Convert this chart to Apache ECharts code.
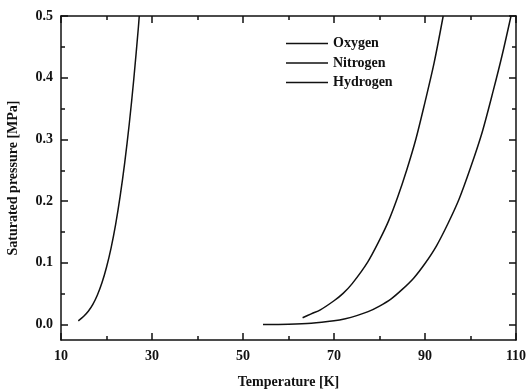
<!DOCTYPE html>
<html>
<head>
<meta charset="utf-8">
<script src="https://cdn.jsdelivr.net/npm/echarts@6/dist/echarts.min.js"></script>
<style>
  html, body { margin: 0; padding: 0; background: #fff; }
  #chart { width: 531px; height: 389px; }
</style>
</head>
<body>
<div id="chart"></div>
<script>
// temperatures [K] and saturated pressures [MPa]
const oxygenT = [54.4, 60, 65, 70, 72.5, 75, 77.5, 80, 82.5, 85, 87.5, 90, 92.5, 95, 97.5, 100, 102.5, 105, 107, 108.9]
const oxygenP = [0.00015, 0.0007, 0.0023, 0.0063, 0.0096, 0.0145, 0.0209, 0.030, 0.0413, 0.057, 0.0752, 0.099, 0.1273, 0.163, 0.2035, 0.254, 0.310, 0.379, 0.438, 0.5]

const nitrogenT = [63.1, 65, 67, 70, 72, 74, 77.4, 80, 82, 84, 86, 88, 90, 92, 94.0]
const nitrogenP = [0.011, 0.0174, 0.0239, 0.0386, 0.0506, 0.0664, 0.1013, 0.1369, 0.168, 0.2066, 0.2508, 0.3006, 0.3605, 0.424, 0.5]

const hydrogenT = [13.8, 15, 16, 17, 18, 19, 20, 21, 22, 23, 24, 25, 26, 27, 27.2]
const hydrogenP = [0.006, 0.0134, 0.0215, 0.0327, 0.0479, 0.0677, 0.0929, 0.124, 0.162, 0.208, 0.262, 0.325, 0.398, 0.481, 0.5]

const seriesNames = ['Oxygen', 'Nitrogen', 'Hydrogen']

const xTicks = [10, 30, 50, 70, 90, 110]
const yMajorTicks = [0, 0.1, 0.2, 0.3, 0.4, 0.5]
const yMinorTicks = [0.05, 0.15, 0.25, 0.35, 0.45]

const font = 'Liberation Serif'
const ink = '#111'

const pairs = (xs, ys) => xs.map((x, i) => [x, ys[i]])

const xAxisBase = (pos, showLabel) => ({
  type: 'value',
  position: pos,
  min: xTicks[0],
  max: xTicks[xTicks.length - 1],
  interval: xTicks[1] - xTicks[0],
  axisLine: { show: true, onZero: false, lineStyle: { color: ink, width: 1.5 } },
  axisTick: { show: true, inside: true, length: 7, lineStyle: { color: ink, width: 1.5 } },
  minorTick: { show: true, splitNumber: 2, length: 4, lineStyle: { color: ink, width: 1.5 } },
  splitLine: { show: false },
  minorSplitLine: { show: false },
  axisLabel: {
    show: showLabel,
    margin: 9,
    color: ink,
    fontFamily: font,
    fontWeight: 'bold',
    fontSize: 14
  }
})

const yAxisBase = (pos, ticks, len, showLine, showLabel) => ({
  type: 'value',
  position: pos,
  min: -0.025,
  max: 0.5,
  axisLine: { show: showLine, onZero: false, lineStyle: { color: ink, width: 1.5 } },
  axisTick: { show: true, inside: true, length: len, customValues: ticks, lineStyle: { color: ink, width: 1.5 } },
  splitLine: { show: false },
  axisLabel: {
    show: showLabel,
    customValues: yMajorTicks,
    formatter: v => v.toFixed(1),
    margin: 8,
    color: ink,
    fontFamily: font,
    fontWeight: 'bold',
    fontSize: 14
  }
})

const xBottom = xAxisBase('bottom', true)
xBottom.name = 'Temperature [K]'
xBottom.nameLocation = 'middle'
xBottom.nameGap = 35
xBottom.nameTextStyle = { color: ink, fontFamily: font, fontWeight: 'bold', fontSize: 14 }

const yLeft = yAxisBase('left', yMajorTicks, 7, true, true)
yLeft.name = 'Saturated pressure [MPa]'
yLeft.nameLocation = 'middle'
yLeft.nameGap = 41
yLeft.nameTextStyle = { color: ink, fontFamily: font, fontWeight: 'bold', fontSize: 14 }

const lineSeries = (name, xs, ys) => ({
  name: name,
  type: 'line',
  xAxisIndex: 0,
  yAxisIndex: 0,
  data: pairs(xs, ys),
  smooth: 0.3,
  symbol: 'none',
  lineStyle: { color: ink, width: 1.5 },
  itemStyle: { color: ink }
})

const option = {
  animation: false,
  backgroundColor: '#fff',
  grid: { left: 61, right: 15, top: 16, bottom: 49, outerBoundsMode: 'none' },
  legend: {
    orient: 'vertical',
    left: 281,
    top: 31.5,
    icon: 'rect',
    itemWidth: 42,
    itemHeight: 1.5,
    itemGap: 5.5,
    data: seriesNames,
    textStyle: { color: ink, fontFamily: font, fontWeight: 'bold', fontSize: 14 }
  },
  xAxis: [xBottom, xAxisBase('top', false)],
  yAxis: [
    yLeft,
    yAxisBase('left', yMinorTicks, 4, false, false),
    yAxisBase('right', yMajorTicks, 7, true, false),
    yAxisBase('right', yMinorTicks, 4, false, false)
  ],
  series: [
    lineSeries(seriesNames[0], oxygenT, oxygenP),
    lineSeries(seriesNames[1], nitrogenT, nitrogenP),
    lineSeries(seriesNames[2], hydrogenT, hydrogenP)
  ]
}

const chart = echarts.init(document.getElementById('chart'))
chart.setOption(option)
</script>
</body>
</html>
